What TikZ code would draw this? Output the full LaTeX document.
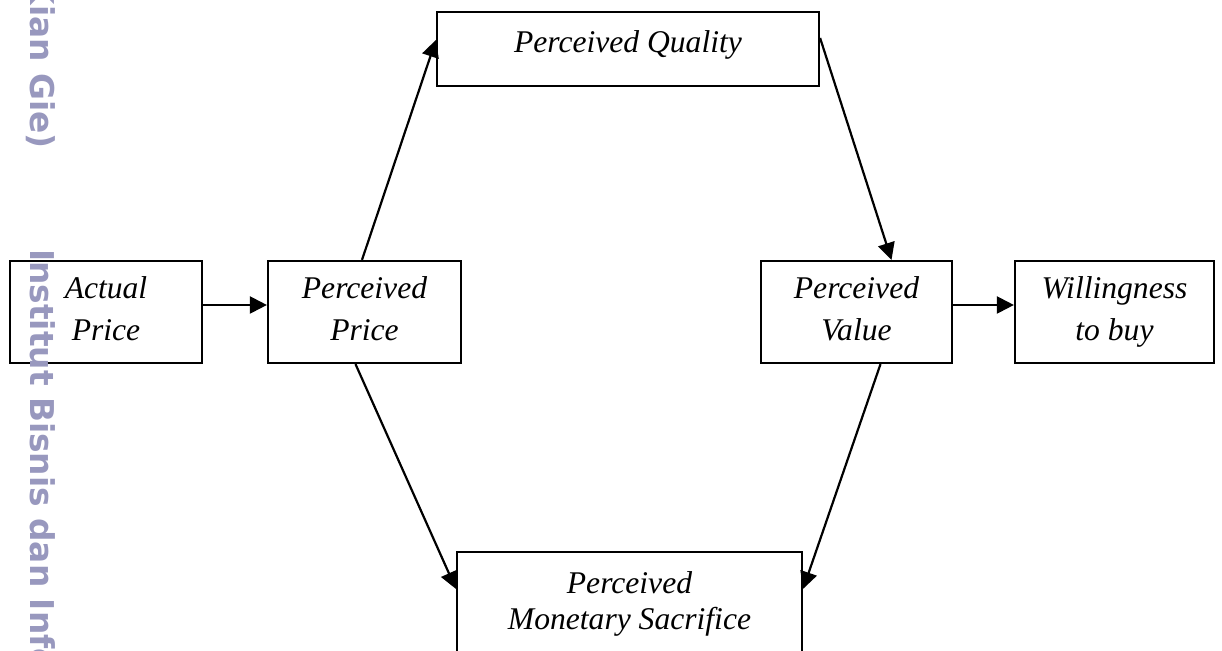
\documentclass[tikz,border=0pt]{standalone}
\usepackage{fontspec}
\setmainfont{Liberation Serif}
\newfontfamily\wmfont{DejaVu Sans}
\usetikzlibrary{arrows.meta,positioning}
\definecolor{wmblue}{RGB}{152,152,190}

\begin{document}
\begin{tikzpicture}[x=0.5pt, y=-0.5pt, line width=1.1pt,
    box/.style = {draw, rectangle, inner sep=0pt, align=center,
      font=\fontsize{15.8pt}{21pt}\selectfont\itshape},
    twoline/.style = {execute at end node=\vphantom{y}},
    link/.style = {-{Triangle[length=8.5pt,width=8.5pt]}},
    wmtext/.style = {rotate=-90, inner sep=0pt, text=wmblue,
      font=\wmfont\bfseries\fontsize{16.4pt}{18pt}\selectfont}]
  \useasboundingbox (0,0) rectangle (1222,651);
  \clip (0,0) rectangle (1222,651);
  % boxes
  \node[box, twoline, minimum width=96pt, minimum height=51pt] (actual) at (106,312) {Actual\\Price};
  \node[box, twoline, minimum width=96.5pt, minimum height=51pt] (pprice) at (364.5,312) {Perceived\\Price};
  \node[box, text depth=7.5pt, minimum width=191pt, minimum height=37pt] (quality) at (628,49) {Perceived Quality};
  \node[box, twoline, minimum width=95.5pt, minimum height=51pt] (pvalue) at (856.5,312) {Perceived\\Value};
  \node[box, twoline, minimum width=99.5pt, minimum height=51pt] (willing) at (1114.5,312) {Willingness\\to buy};
  \node[box, minimum width=172.5pt, minimum height=74pt] (sacrifice) at (629.5,626) {};
  \node[align=center, inner sep=0pt, font=\fontsize{15.8pt}{18pt}\selectfont\itshape]
    (sacrificetext) at (629.5,604) {Perceived\\Monetary Sacrifice};
  % arrows
  \draw[link] ([yshift=3.5pt]actual.east) -- ([yshift=3.5pt]pprice.west);
  \draw[link] ([xshift=-1.25pt]pprice.north) -- ([yshift=4.5pt]quality.west);
  \draw[link] ([yshift=5.5pt]quality.east) -- ([xshift=17.5pt]pvalue.north);
  \draw[link] ([yshift=3.5pt]pvalue.east) -- ([yshift=3.5pt]willing.west);
  \draw[link] ([xshift=12pt]pvalue.south) -- ([yshift=-19pt]sacrifice.north east);
  \draw[link] ([xshift=-4.5pt]pprice.south) -- ([yshift=-19pt]sacrifice.north west);
  % watermark
  \node[wmtext, anchor=base east] (wmtail) at (31,150) {k Kian Gie)};
  \node[wmtext, anchor=base west] (wmname) at (31,248) {Institut Bisnis dan Info};
\end{tikzpicture}
\end{document}
